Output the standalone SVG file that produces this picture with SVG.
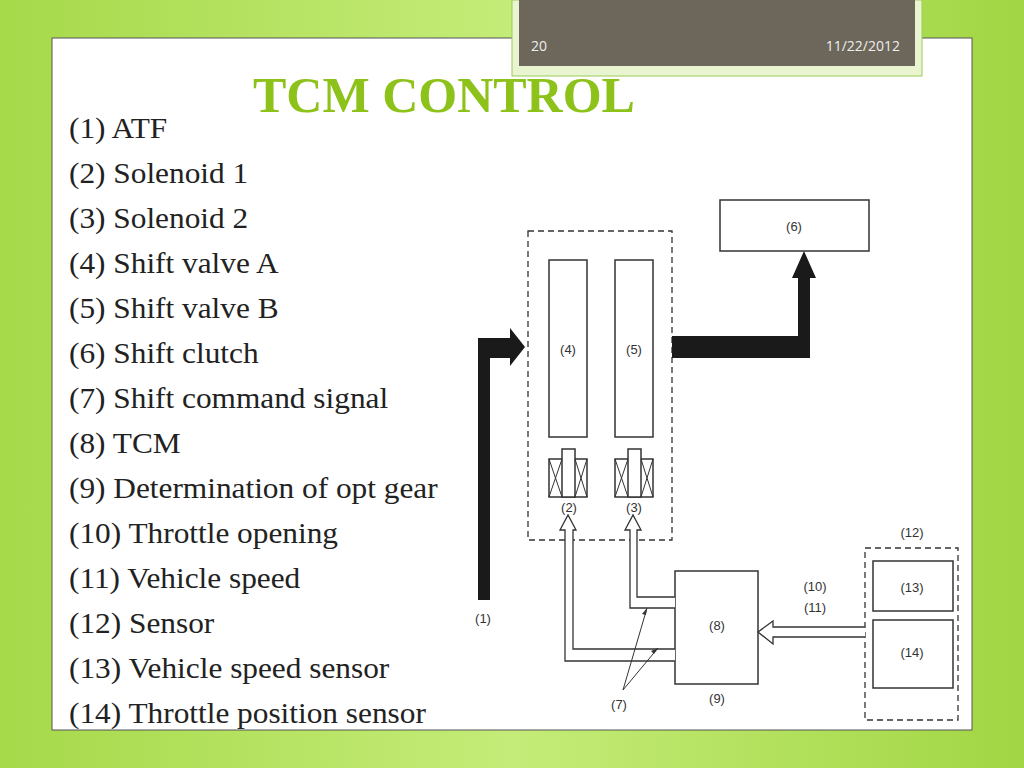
<svg xmlns="http://www.w3.org/2000/svg" width="1024" height="768" viewBox="0 0 1024 768">
<defs>
<linearGradient id="bg" x1="0" y1="0" x2="1" y2="0">
<stop offset="0" stop-color="#a6d94a"/><stop offset="0.5" stop-color="#c4ec78"/><stop offset="1" stop-color="#a2d644"/>
</linearGradient>
<style>
.l{font-family:"Liberation Serif",serif;font-size:29px;fill:#222}
.d{font-family:"Liberation Sans Narrow","Liberation Sans",sans-serif;font-size:13px;fill:#333;text-anchor:middle}
.b{fill:#fff;stroke:#333;stroke-width:1.5}
.ds{fill:none;stroke:#333;stroke-width:1.3;stroke-dasharray:6,4}
.h{fill:#fff;stroke:#333;stroke-width:1.3}
</style>
</defs>
<rect width="1024" height="768" fill="url(#bg)"/>
<rect x="52" y="38" width="920" height="692" fill="#fff" stroke="#555" stroke-width="1"/>
<rect x="512" y="0" width="410" height="76" fill="#e8f5d0" stroke="#9ccc5a"/>
<rect x="519" y="0" width="396" height="66" fill="#6d665a"/>
<text x="531" y="51" font-family="Open Sans,sans-serif" font-size="14" fill="#eee">20</text>
<text x="900" y="51" font-family="Open Sans,sans-serif" font-size="14" fill="#eee" text-anchor="end">11/22/2012</text>
<text x="444" y="112" font-family="Liberation Serif,serif" font-size="50" font-weight="bold" fill="#8cc21a" text-anchor="middle">TCM CONTROL</text>
<g id="legend" transform="translate(69 0) scale(1.08 1)">
<text class="l" x="0" y="138">(1) ATF</text>
<text class="l" x="0" y="183">(2) Solenoid 1</text>
<text class="l" x="0" y="228">(3) Solenoid 2</text>
<text class="l" x="0" y="273">(4) Shift valve A</text>
<text class="l" x="0" y="318">(5) Shift valve B</text>
<text class="l" x="0" y="363">(6) Shift clutch</text>
<text class="l" x="0" y="408">(7) Shift command signal</text>
<text class="l" x="0" y="453">(8) TCM</text>
<text class="l" x="0" y="498">(9) Determination of opt gear</text>
<text class="l" x="0" y="543">(10) Throttle opening</text>
<text class="l" x="0" y="588">(11) Vehicle speed</text>
<text class="l" x="0" y="633">(12) Sensor</text>
<text class="l" x="0" y="678">(13) Vehicle speed sensor</text>
<text class="l" x="0" y="723">(14) Throttle position sensor</text>
</g>
<g id="valvebody"><rect class="ds" x="528" y="231" width="144" height="309"/></g>
<g id="n6"><rect class="b" x="720" y="200" width="149" height="51"/><text class="d" x="794" y="231">(6)</text></g>
<g id="n4"><rect class="b" x="549" y="260" width="38" height="177"/><text class="d" x="568" y="354">(4)</text></g>
<g id="n5"><rect class="b" x="615" y="260" width="38" height="177"/><text class="d" x="634" y="354">(5)</text></g>
<g id="n2">
<rect class="b" x="549" y="459" width="38" height="38"/><rect class="b" x="562" y="449" width="13" height="48"/>
<path d="M549 459L562 497M562 459L549 497M575 459L587 497M587 459L575 497" stroke="#333" fill="none"/>
<text class="d" x="569" y="512">(2)</text></g>
<g id="n3">
<rect class="b" x="615" y="459" width="38" height="38"/><rect class="b" x="628" y="449" width="13" height="48"/>
<path d="M615 459L628 497M628 459L615 497M641 459L653 497M653 459L641 497" stroke="#333" fill="none"/>
<text class="d" x="634" y="512">(3)</text></g>
<g id="n8"><rect class="b" x="675" y="571" width="83" height="113"/><text class="d" x="717" y="630">(8)</text><text class="d" x="717" y="703">(9)</text></g>
<g id="n12"><rect class="ds" x="865" y="548" width="93" height="172"/><text class="d" x="912" y="537">(12)</text></g>
<g id="n13"><rect class="b" x="873" y="561" width="80" height="50"/><text class="d" x="912" y="592">(13)</text></g>
<g id="n14"><rect class="b" x="873" y="620" width="80" height="68"/><text class="d" x="912" y="657">(14)</text></g>
<g id="connectors">
<path d="M478 600V338H510V328L525 347L510 366V358H490V600Z" fill="#1a1a1a"/>
<path d="M672 336H798V278H792L804 251L816 278H810V358H672Z" fill="#1a1a1a"/>
<path class="h" d="M675 661H565V530H560L568 515L576 530H573V649H675"/>
<path class="h" d="M675 608H630V530H625L633 515L641 530H637V597H675"/>
<path class="h" d="M865 627H773V621L758 632L773 644V637H865"/>
<path d="M623 690L647 608M623 690L658 648" stroke="#333" stroke-width="1" fill="none"/>
<path d="M647 608l-5 6 4 1zM658 648l-7 3 3 3z" fill="#333"/>
<text class="d" x="483" y="623">(1)</text>
<text class="d" x="619" y="709">(7)</text>
<text class="d" x="815" y="591">(10)</text>
<text class="d" x="815" y="612">(11)</text>
</g>
</svg>
